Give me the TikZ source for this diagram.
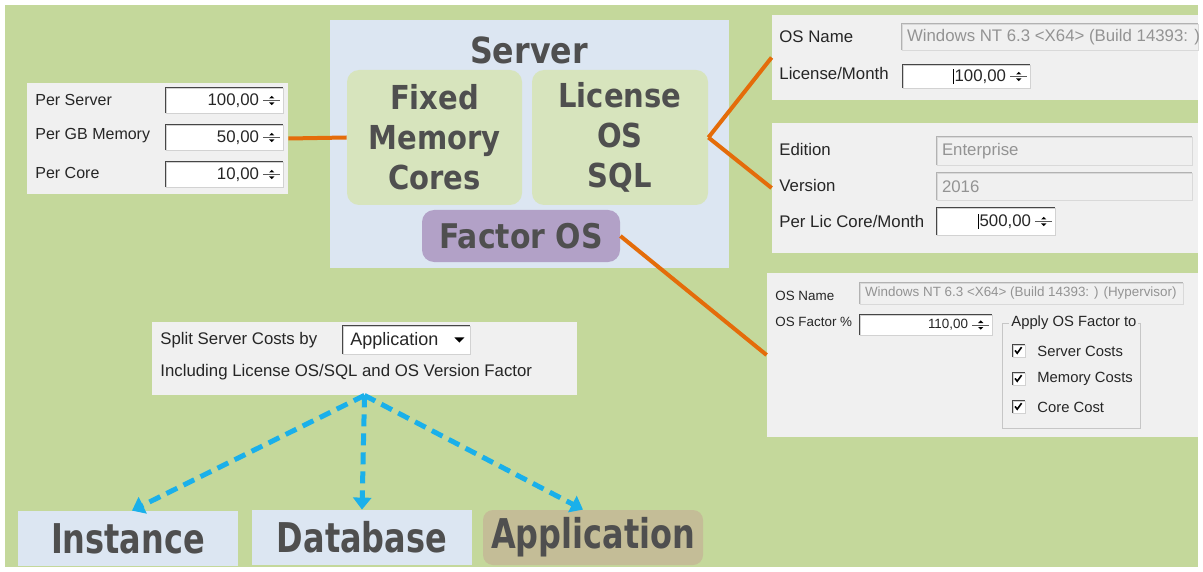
\documentclass[tikz,border=0pt]{standalone}
\usepackage{fontspec}
\setmainfont{Liberation Sans}
\newfontfamily\titlefont[FakeStretch=0.88]{DejaVu Sans}
\newfontfamily\boxfont[FakeStretch=0.78]{DejaVu Sans}
\usepackage{tikz}
\usetikzlibrary{fit,arrows.meta,calc}

\definecolor{bggreen}{HTML}{C4D89B}
\definecolor{srvblue}{HTML}{DCE6F2}
\definecolor{boxgreen}{HTML}{D7E4BD}
\definecolor{factorpurple}{HTML}{B2A1C7}
\definecolor{appbrown}{HTML}{C4BD97}
\definecolor{panelgray}{HTML}{F0F0F0}
\definecolor{titlegray}{HTML}{4F4F4F}
\definecolor{orng}{HTML}{E46C0A}
\definecolor{arrowblue}{HTML}{1AB0EA}

\tikzset{
  panel/.style={fill=panelgray,inner sep=0pt},
  field/.style={fill=white,draw=gray!35,inner sep=0pt},
  rofield/.style={fill=panelgray,draw=gray!30,inner sep=0pt},
  sunk/.style={draw=gray!55!black,line width=0.6pt},
  uitext/.style={font=\fontsize{8.4}{10}\selectfont,text=black!85,inner sep=1pt},
  rotext/.style={uitext,text=gray!85},
  bigtitle/.style={font=\titlefont\bfseries\fontsize{16.5}{20}\selectfont,text=titlegray,align=center,inner sep=0pt},
  greenbox/.style={fill=boxgreen,rounded corners=6pt,inner sep=0pt},
  levelbox/.style={fill=srvblue,inner sep=0pt},
  leveltext/.style={font=\boxfont\bfseries\fontsize{20.5}{22}\selectfont,text=titlegray,inner sep=0pt},
  orangeline/.style={draw=orng,line width=2pt},
  splitarrow/.style={draw=arrowblue,line width=2.5pt,dash pattern=on 6pt off 3.5pt,
    -{Triangle[width=9pt,length=6pt]}}
}

% spin box: name, x1, y1, x2, y2, value
\newcommand{\spinfield}[6]{%
  \node[field,fit={(#2,#3) (#4,#5)}] (#1) {};
  \draw[sunk] (#1.south west) |- (#1.north east);
  \node[uitext,anchor=east] (#1v) at ([xshift=-11pt]#1.east) {#6};
  \draw[gray!70!black,line width=0.4pt] ([xshift=-10pt]#1.east) -- ([xshift=-1.5pt]#1.east);
  \fill ([xshift=-5.8pt,yshift=1pt]#1.east) -- ++(-1.3pt,0) -- ++(1.3pt,1.3pt) -- ++(1.3pt,-1.3pt) -- cycle;
  \fill ([xshift=-5.8pt,yshift=-1pt]#1.east) -- ++(-1.3pt,0) -- ++(1.3pt,-1.3pt) -- ++(1.3pt,1.3pt) -- cycle;
}
% read-only text box: name, x1, y1, x2, y2, text
\newcommand{\readfield}[6]{%
  \node[rofield,fit={(#2,#3) (#4,#5)}] (#1) {};
  \draw[sunk,draw=gray!60] (#1.south west) |- (#1.north east);
  \node[rotext,anchor=west] (#1v) at ([xshift=1.5pt]#1.west) {#6};
}
% check box line: name, y, text
\newcommand{\checkitem}[3]{%
  \node[field,fit={(1013,#2-6) (1025,#2+6)}] (#1) {};
  \draw[sunk] (#1.south west) |- (#1.north east);
  \draw[line width=0.8pt] ([xshift=1.2pt,yshift=0.3pt]#1.west) -- ++(1.1pt,-1.4pt) -- ++(2.2pt,3pt);
  \node[uitext,anchor=west] (#1t) at (1035,#2) {#3};
}

\begin{document}
\begin{tikzpicture}[x=0.5pt,y=-0.5pt]
\useasboundingbox (0,0) rectangle (1203,572);
\fill[white] (0,0) rectangle (1203,572);
\fill[bggreen] (5,5) rectangle (1198,567);

% server with its cost parts
\node[fill=srvblue,inner sep=0pt,fit={(330,20) (729,268)}] (server) {};
\node[bigtitle,font=\titlefont\bfseries\fontsize{18}{20}\selectfont] (srvtitle) at (529,50) {Server};
\node[greenbox,fit={(347,70) (522,205)}] (fixed) {};
\node[bigtitle] (fixedtxt) at (fixed.center) {Fixed\\Memory\\Cores};
\node[greenbox,fit={(532,70) (708,205)}] (license) {};
\node[bigtitle] (licensetxt) at (license.center) {License\\OS\\SQL};
\node[greenbox,fill=factorpurple,fit={(422,210) (620,262)}] (factor) {};
\node[bigtitle,font=\titlefont\bfseries\fontsize{17}{20}\selectfont] (factortxt) at (factor.center) {Factor OS};

% fixed costs
\node[panel,fit={(27,83) (288,194)}] (costpanel) {};
\node[uitext,font=\fontsize{8}{10}\selectfont,anchor=west] (perserver) at (33,100) {Per Server};
\node[uitext,font=\fontsize{8}{10}\selectfont,anchor=west] (permem) at (33,136) {Per GB Memory};
\node[uitext,font=\fontsize{8}{10}\selectfont,anchor=west] (percore) at (33,173) {Per Core};
\spinfield{srvspin}{166}{88}{283}{113}{100,00}
\spinfield{memspin}{166}{125}{283}{150}{50,00}
\spinfield{corespin}{166}{162}{283}{187}{10,00}

% license OS
\node[panel,fit={(772,15) (1198,100)}] (oslic) {};
\node[uitext,anchor=west] (osname) at (777,37) {OS Name};
\node[uitext,anchor=west] (licmonth) at (777,73) {License/Month};
\readfield{osfield}{902}{24}{1198}{50}{Windows NT 6.3 <X64> (Build 14393: )}
\spinfield{licspin}{903}{65}{1030}{88}{100,00}
\draw[line width=0.5pt] ([xshift=0.4pt,yshift=-1pt]licspinv.north west) -- ([xshift=0.4pt,yshift=1pt]licspinv.south west);

% license SQL
\node[panel,fit={(772,123) (1198,253)}] (sqllic) {};
\node[uitext,anchor=west] (edition) at (777,149) {Edition};
\node[uitext,anchor=west] (version) at (777,185) {Version};
\node[uitext,anchor=west] (percorem) at (777,221) {Per Lic Core/Month};
\readfield{edfield}{937}{137}{1192}{165}{Enterprise}
\readfield{verfield}{937}{173}{1192}{200}{2016}
\spinfield{sqlspin}{937}{208}{1055}{235}{500,00}
\draw[line width=0.5pt] ([xshift=0.4pt,yshift=-1pt]sqlspinv.north west) -- ([xshift=0.4pt,yshift=1pt]sqlspinv.south west);

% OS factor
\node[panel,fit={(767,273) (1198,437)}] (facpanel) {};
\begin{scope}[uitext/.append style={font=\fontsize{6.7}{8}\selectfont}]
\node[uitext,anchor=west] (osname2) at (773,296) {OS Name};
\node[uitext,anchor=west] (facpct) at (773,322) {OS Factor \%};
\readfield{hypfield}{860}{283}{1183}{304}{Windows NT 6.3 <X64> (Build 14393: ) (Hypervisor)}
\spinfield{facspin}{860}{315}{992}{335}{110,00}
\draw[gray!45] (1002,323) rectangle (1140,428);
\node[uitext,fill=panelgray,anchor=west,font=\fontsize{7.4}{9}\selectfont] (applyto) at (1009,323) {Apply OS Factor to};
\end{scope}
\begin{scope}[uitext/.append style={font=\fontsize{7.4}{9}\selectfont}]
\checkitem{chksrv}{351}{Server Costs}
\checkitem{chkmem}{379}{Memory Costs}
\checkitem{chkcore}{407}{Core Cost}
\end{scope}

% split
\node[panel,fit={(152,322) (577,395)}] (split) {};
\node[uitext,anchor=west] (splitby) at (158,340) {Split Server Costs by};
\node[field,fit={(343,326) (470,354)}] (combo) {};
\draw[sunk] (combo.south west) |- (combo.north east);
\node[uitext,anchor=west,font=\fontsize{9}{11}\selectfont] (combov) at (348,341) {Application};
\fill ([xshift=-8pt,yshift=1.3pt]combo.east) -- ++(5pt,0) -- ++(-2.5pt,-2.6pt) -- cycle;
\node[uitext,anchor=west] (including) at (158,372) {Including License OS/SQL and OS Version Factor};

\node[levelbox,fit={(18,511) (238,566)}] (inst) {};
\node[leveltext] (insttxt) at (inst.center) {Instance};
\node[levelbox,fit={(252,510) (472,565)}] (db) {};
\node[leveltext] (dbtxt) at (db.center) {Database};
\node[levelbox,fill=appbrown,rounded corners=5pt,fit={(483,510) (703,565)}] (appl) {};
\node[leveltext] (appltxt) at (appl.center) {Application};

% connectors
\draw[orangeline] (costpanel.east) -- (fixed.west);
\draw[orangeline] (license.east) -- (oslic.west);
\draw[orangeline] (license.east) -- (sqllic.west);
\draw[orangeline] (factor.east) -- (facpanel.west);
\draw[splitarrow] (split.south) -- ([xshift=2pt]inst.north);
\draw[splitarrow] (split.south) -- (db.north);
\draw[splitarrow] (split.south) -- ([xshift=-5pt]appl.north);
\end{tikzpicture}
\end{document}
